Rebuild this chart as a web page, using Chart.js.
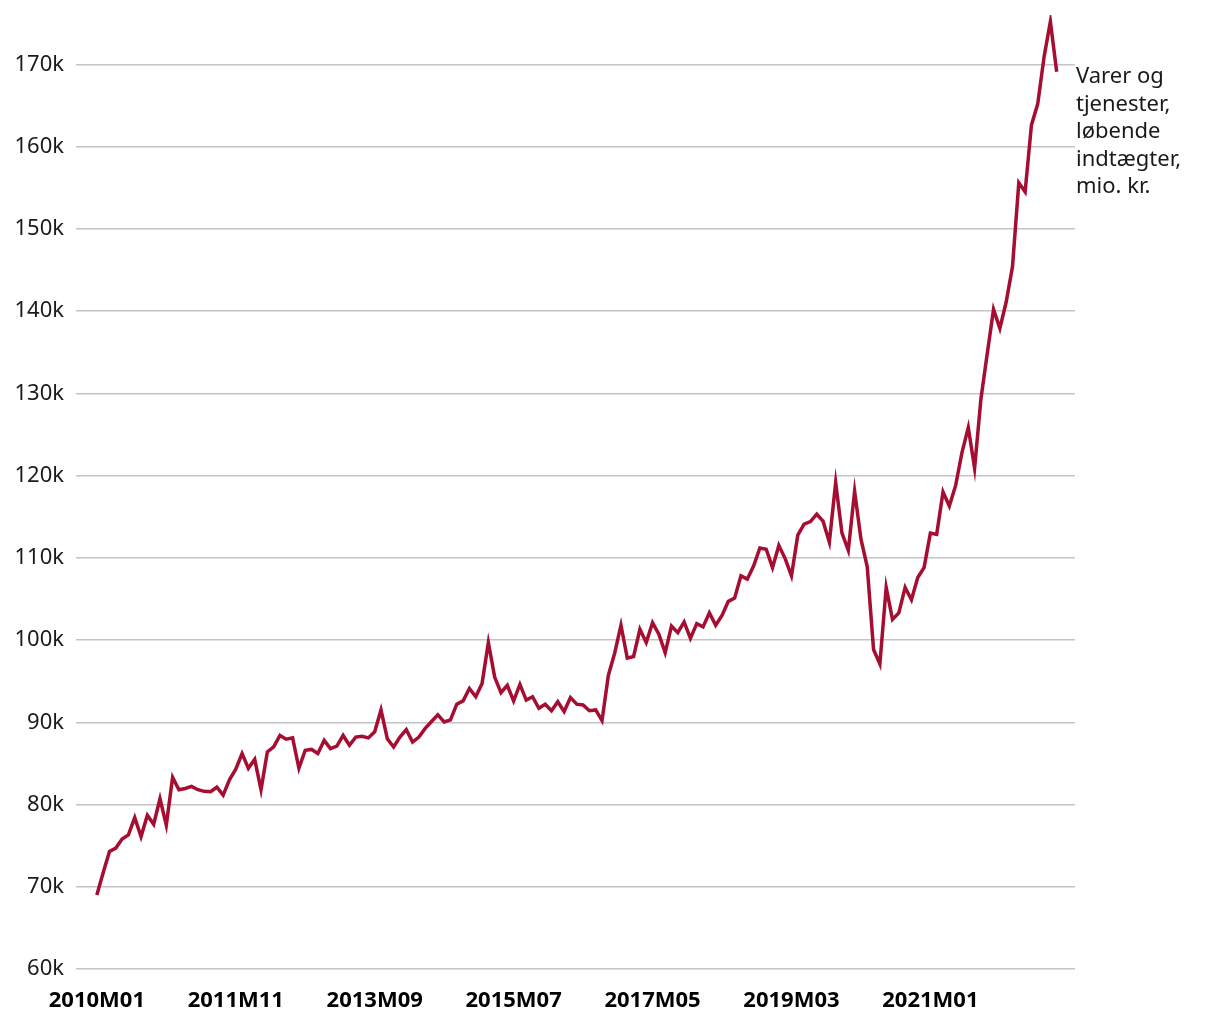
<!DOCTYPE html>
<html>
<head>
<meta charset="utf-8">
<script src="https://cdn.jsdelivr.net/npm/chart.js@4.4.1/dist/chart.umd.min.js"></script>
<style>
  html, body { margin: 0; padding: 0; background: #fff; }
  #wrap { width: 1220px; height: 1020px; }
</style>
</head>
<body>
<div id="wrap"><canvas id="chart" width="1220" height="1020"></canvas></div>
<script>
// monthly values, 2010M01 .. 2022M09, mio. kr. (thousands on the axis)
const values = [
  69.0, 71.7, 74.3, 74.7, 75.8, 76.3, 78.4, 76.1, 78.7, 77.6, 80.7, 77.5,
  83.3, 81.8, 81.95, 82.2, 81.8, 81.6, 81.55, 82.1, 81.15, 83.0, 84.3, 86.2,
  84.4, 85.5, 81.8, 86.4, 87.0, 88.4, 87.95, 88.1, 84.4, 86.6, 86.7, 86.2,
  87.8, 86.8, 87.1, 88.4, 87.2, 88.2, 88.3, 88.1, 88.85, 91.5, 88.0, 87.0,
  88.2, 89.1, 87.6, 88.2, 89.25, 90.1, 90.9, 90.05, 90.3, 92.2, 92.6, 94.1,
  93.1, 94.7, 99.7, 95.5, 93.6, 94.5, 92.6, 94.6, 92.7, 93.1, 91.7, 92.2,
  91.4, 92.5, 91.3, 93.0, 92.2, 92.1, 91.4, 91.5, 90.2, 95.7, 98.4, 101.8,
  97.8, 98.0, 101.3, 99.7, 102.1, 100.7, 98.45, 101.7, 100.9, 102.2, 100.2, 102.0,
  101.6, 103.3, 101.8, 103.0, 104.7, 105.1, 107.8, 107.4, 109.0, 111.2, 111.05, 108.8,
  111.5, 109.9, 107.8, 112.75, 114.1, 114.4, 115.3, 114.45, 111.9, 119.15, 113.0, 110.9,
  118.1, 112.3, 108.9, 98.85, 97.1, 106.4, 102.5, 103.3, 106.4, 104.9, 107.6, 108.8,
  113.0, 112.85, 118.0, 116.3, 118.8, 122.8, 125.85, 120.9, 129.3, 134.8, 140.2, 137.9,
  141.1, 145.4, 155.6, 154.5, 162.6, 165.2, 170.9, 175.2, 169.1
];

const startYear = 2010;
const months = values.map((_, i) => {
  const y = startYear + Math.floor(i / 12);
  const m = (i % 12) + 1;
  return y + 'M' + String(m).padStart(2, '0');
});

const xTickIdx = [0, 22, 44, 66, 88, 110, 132];
const yTicks = [60, 70, 80, 90, 100, 110, 120, 130, 140, 150, 160, 170];
const seriesLabel = ['Varer og', 'tjenester,', 'løbende', 'indtægter,', 'mio. kr.'];

const lineColor = '#a50d31';
const gridColor = '#c4c4c4';
const textColor = '#1a1a1a';

// label at the right edge of the plot
const sideLabel = {
  id: 'sideLabel',
  afterDraw(chart) {
    const { ctx, chartArea } = chart;
    ctx.save();
    ctx.font = '22px "Noto Sans", "Open Sans", sans-serif';
    ctx.fillStyle = textColor;
    ctx.textBaseline = 'middle';
    ctx.textAlign = 'left';
    seriesLabel.forEach((t, i) => {
      ctx.fillText(t, chartArea.right + 1, 77 + i * 27.5);
    });
    ctx.restore();
  }
};

new Chart(document.getElementById('chart'), {
  type: 'line',
  data: {
    datasets: [{
      data: values.map((v, i) => ({ x: i, y: v })),
      borderColor: lineColor,
      borderWidth: 3.5,
      pointRadius: 0,
      tension: 0,
      fill: false
    }]
  },
  options: {
    responsive: false,
    animation: false,
    layout: { padding: { top: 15, right: 145, bottom: 0, left: 0 } },
    plugins: { legend: { display: false }, tooltip: { enabled: false } },
    scales: {
      x: {
        type: 'linear',
        min: -3.3,
        max: 154.9,
        afterBuildTicks(scale) { scale.ticks = xTickIdx.map(v => ({ value: v })); },
        afterFit(scale) {
          scale.height = 51;
          scale.paddingLeft = 0;
          scale.paddingRight = 0;
        },
        grid: { display: false, drawTicks: false },
        border: { display: false },
        ticks: {
          autoSkip: false,
          maxRotation: 0,
          padding: 19,
          color: '#000',
          font: { family: '"Noto Sans", "Open Sans", sans-serif', size: 22, weight: 'bold' },
          callback: (v) => months[v]
        }
      },
      y: {
        min: 60,
        max: 176,
        afterBuildTicks(scale) { scale.ticks = yTicks.map(v => ({ value: v })); },
        afterFit(scale) {
          scale.width = 76;
          scale.paddingTop = 0;
          scale.paddingBottom = 0;
        },
        grid: { color: gridColor, lineWidth: 1.5, drawTicks: false },
        border: { display: false },
        ticks: {
          padding: 12,
          color: textColor,
          font: { family: '"Noto Sans", "Open Sans", sans-serif', size: 22 },
          callback: (v) => v + 'k'
        }
      }
    }
  },
  plugins: [sideLabel]
});
</script>
</body>
</html>
